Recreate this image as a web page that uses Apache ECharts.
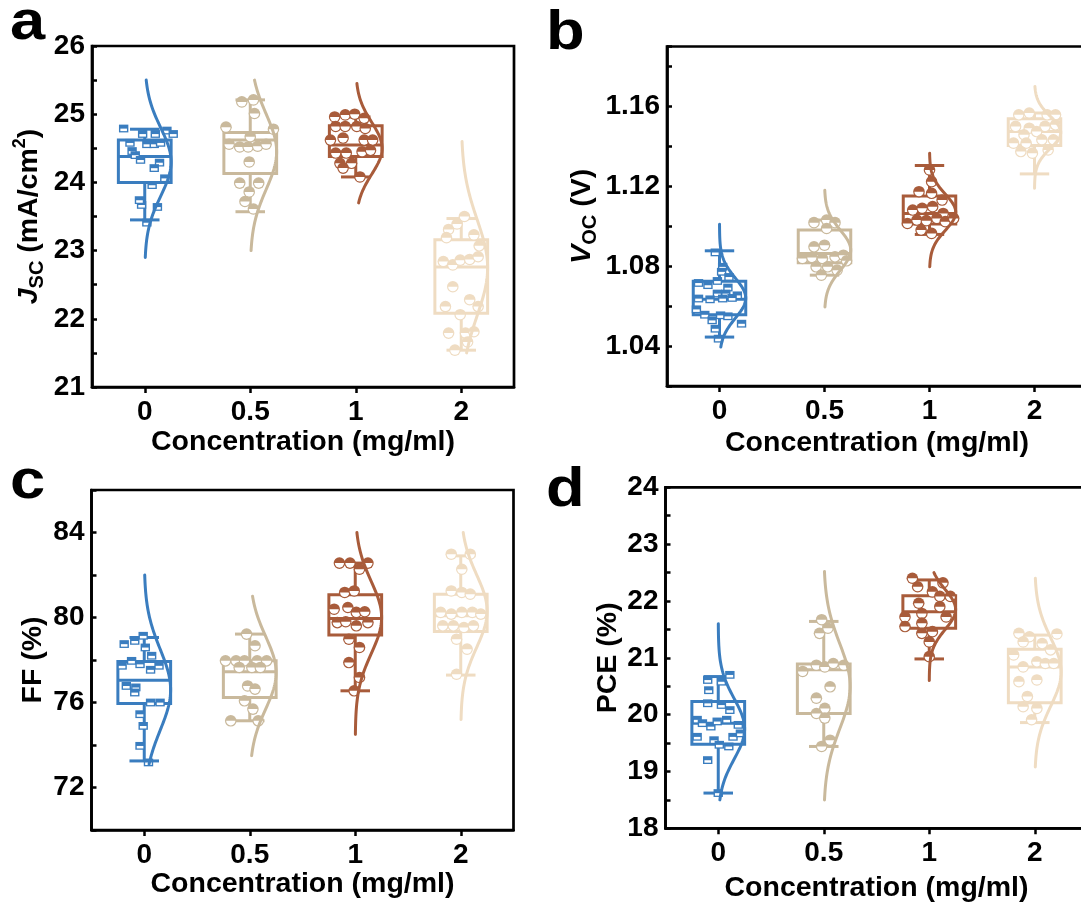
<!DOCTYPE html>
<html><head><meta charset="utf-8">
<script src="https://cdn.jsdelivr.net/npm/echarts@6/dist/echarts.min.js"></script>
<style>html,body{margin:0;padding:0;background:#fff}#c{width:1081px;height:906px}</style>
</head><body><div id="c"></div>
<script>
const CATEGORIES = ['0', '0.5', '1', '2'];
const COLORS = ['#3A7DBF', '#C9B99C', '#A85B3A', '#EFDCC2'];
const X_NAME = 'Concentration (mg/ml)';

// box stats: [min, Q1, median, Q3, max]
const JSC_BOX = [[23.45, 24.00, 24.38, 24.62, 24.78], [23.57, 24.13, 24.62, 24.73, 25.21], [24.08, 24.38, 24.55, 24.83, 24.96], [21.54, 22.08, 22.76, 23.16, 23.47]];
const VOC_BOX = [[1.0445, 1.0557, 1.0634, 1.0725, 1.0877], [1.0755, 1.0817, 1.0864, 1.0981, 1.1031], [1.0959, 1.1011, 1.1064, 1.1152, 1.1304], [1.1262, 1.1404, 1.1474, 1.1538, 1.1567]];
const FF_BOX = [[73.25, 75.95, 77.05, 77.93, 79.06], [75.14, 76.24, 77.45, 77.96, 79.22], [76.55, 79.18, 79.95, 81.07, 82.56], [77.29, 79.34, 80.08, 81.10, 82.90]];
const PCE_BOX = [[18.62, 19.48, 19.85, 20.23, 20.67], [19.44, 20.02, 20.79, 20.89, 21.64], [20.98, 21.52, 21.81, 22.09, 22.37], [19.86, 20.21, 20.84, 21.15, 21.40]];

// normal curves: [mean, sd, yLow, yHigh]
const JSC_CURVE = [[24.3, 0.5, 22.9, 25.5], [24.45, 0.55, 23.0, 25.5], [24.5, 0.38, 23.7, 25.45], [22.75, 0.7, 21.5, 24.6]];
const VOC_CURVE = [[1.064, 0.010, 1.0395, 1.101], [1.088, 0.010, 1.0596, 1.118], [1.107, 0.009, 1.0797, 1.1366], [1.147, 0.008, 1.119, 1.170]];
const FF_CURVE = [[76.6, 1.9, 73.1, 82.0], [77.4, 1.7, 73.5, 81.0], [80.0, 1.7, 74.5, 84.0], [80.3, 1.7, 75.2, 84.0]];
const PCE_CURVE = [[19.75, 0.53, 18.5, 21.6], [20.5, 0.75, 18.5, 22.52], [21.85, 0.35, 20.6, 22.5], [20.75, 0.6, 19.08, 22.4]];

// points: [x offset in category bands, value]
const JSC_0 = [[-0.20,24.79],[-0.02,24.71],[0.10,24.71],[0.21,24.76],[0.27,24.71],[-0.14,24.58],[0.02,24.56],[0.09,24.56],[0.15,24.58],[-0.12,24.46],[-0.09,24.40],[-0.04,24.33],[0.14,24.29],[0.09,24.21],[0.07,23.96],[0.19,24.06],[-0.03,23.67],[0.12,23.64],[-0.05,23.74],[0.02,23.41]];
const JSC_05 = [[-0.08,25.18],[0.03,25.21],[0.04,25.01],[-0.23,24.81],[0.22,24.78],[-0.20,24.56],[-0.10,24.52],[-0.02,24.52],[0.07,24.53],[0.15,24.56],[0.0,24.67],[-0.01,24.30],[-0.10,23.99],[0.08,23.99],[-0.01,23.86],[-0.05,23.72],[0.03,23.61]];
const JSC_1 = [[-0.20,24.96],[-0.10,24.99],[-0.01,25.0],[0.08,24.94],[-0.19,24.82],[-0.10,24.82],[0.01,24.82],[0.09,24.79],[-0.24,24.62],[-0.12,24.65],[0.08,24.62],[0.16,24.62],[-0.19,24.43],[-0.09,24.43],[0.06,24.45],[0.14,24.47],[-0.15,24.28],[-0.04,24.28],[-0.12,24.21],[0.04,24.08]];
const JSC_2 = [[-0.12,23.31],[-0.04,23.39],[0.03,23.50],[-0.14,23.19],[0.12,23.23],[0.17,23.07],[-0.17,22.84],[-0.08,22.79],[-0.01,22.86],[0.08,22.87],[0.16,22.91],[-0.08,22.47],[0.08,22.28],[-0.15,22.18],[0.16,22.18],[-0.01,22.06],[-0.12,21.79],[0.04,21.79],[0.12,21.81],[-0.06,21.54],[0.06,21.66]];

const VOC_0 = [[-0.04,1.0869],[0.03,1.0797],[0.02,1.0772],[0.09,1.0746],[-0.20,1.0716],[-0.11,1.0705],[-0.02,1.0726],[0.08,1.0693],[-0.02,1.0663],[0.06,1.0663],[0.17,1.0654],[-0.20,1.0638],[-0.09,1.0634],[0.03,1.0638],[0.12,1.0641],[-0.22,1.0584],[-0.14,1.0557],[-0.07,1.0529],[0.01,1.0554],[0.08,1.0549],[0.21,1.0512],[-0.04,1.0487],[-0.01,1.0437]];
const VOC_05 = [[-0.10,1.1018],[0.02,1.1031],[0.10,1.1018],[0.02,1.0989],[-0.10,1.0897],[0.0,1.0905],[-0.21,1.0839],[-0.12,1.0844],[-0.02,1.0839],[0.10,1.0847],[0.18,1.0855],[0.21,1.0827],[-0.08,1.0797],[0.03,1.0797],[-0.03,1.0755],[0.12,1.0780]];
const VOC_1 = [[0.0,1.1282],[0.02,1.1223],[-0.10,1.1173],[0.02,1.1165],[0.12,1.1131],[-0.16,1.1081],[-0.07,1.1090],[0.03,1.1098],[0.13,1.1064],[-0.21,1.1014],[-0.12,1.1031],[-0.03,1.1028],[0.07,1.1039],[0.15,1.1023],[0.23,1.1039],[-0.08,1.0981],[0.02,1.0964]];
const VOC_2 = [[-0.15,1.1558],[-0.05,1.1567],[0.12,1.1558],[0.20,1.1558],[-0.18,1.1500],[-0.05,1.1491],[0.10,1.1500],[0.20,1.1508],[-0.10,1.1458],[0.02,1.1474],[-0.20,1.1416],[-0.08,1.1416],[0.07,1.1433],[0.18,1.1433],[-0.13,1.1374],[-0.02,1.1366],[0.13,1.1382]];

const FF_0 = [[-0.09,78.90],[-0.01,79.14],[-0.19,78.75],[0.01,78.59],[0.07,78.20],[-0.21,77.73],[-0.12,77.96],[-0.04,77.80],[0.06,77.54],[0.14,77.73],[-0.17,76.78],[-0.08,76.71],[-0.09,76.47],[0.06,76.0],[0.15,76.0],[-0.04,75.45],[-0.01,74.90],[-0.04,73.96],[0.04,73.18]];
const FF_05 = [[-0.03,79.22],[0.05,78.67],[-0.23,77.96],[-0.13,77.96],[-0.05,77.96],[0.07,77.96],[0.16,77.96],[-0.10,77.65],[0.02,77.65],[0.10,77.65],[-0.02,76.78],[0.05,76.63],[-0.05,76.08],[0.03,75.69],[-0.18,75.14],[0.08,75.14]];
const FF_1 = [[-0.15,82.56],[-0.05,82.56],[0.12,82.56],[0.04,82.27],[-0.10,81.18],[-0.01,81.25],[-0.20,80.39],[-0.07,80.47],[0.01,80.24],[0.09,80.27],[-0.17,79.76],[-0.09,79.80],[0.01,79.61],[0.12,79.76],[-0.06,78.98],[0.04,78.59],[-0.06,77.88],[0.04,77.18],[-0.01,76.55]];
const FF_2 = [[-0.09,82.98],[0.09,82.98],[0.01,82.27],[-0.09,81.25],[0.01,81.18],[0.09,81.10],[-0.19,80.24],[-0.09,80.16],[0.01,80.24],[0.11,80.24],[0.19,80.16],[-0.17,79.61],[-0.07,79.61],[0.03,79.53],[0.12,79.61],[-0.04,78.98],[0.06,78.51],[-0.04,77.33]];

const PCE_0 = [[-0.10,20.61],[0.03,20.58],[0.11,20.70],[-0.09,20.43],[-0.10,20.20],[0.03,20.17],[0.11,20.08],[-0.20,19.91],[-0.15,19.85],[-0.07,19.79],[-0.01,19.88],[0.08,19.91],[0.19,19.82],[-0.20,19.61],[-0.04,19.55],[0.14,19.61],[0.21,19.67],[0.01,19.47],[0.10,19.44],[-0.10,19.20],[0.0,18.62]];
const PCE_05 = [[-0.02,21.67],[-0.04,21.43],[0.04,21.52],[-0.20,20.76],[-0.07,20.87],[0.01,20.84],[0.09,20.90],[0.19,20.87],[0.06,20.49],[-0.07,20.29],[0.01,20.11],[-0.07,20.02],[0.01,19.94],[-0.02,19.44],[0.06,19.55]];
const PCE_1 = [[-0.16,22.40],[0.13,22.32],[-0.11,22.25],[0.03,22.16],[-0.10,21.96],[0.10,22.08],[0.20,22.08],[-0.23,21.72],[-0.07,21.78],[0.10,21.90],[0.16,21.72],[-0.23,21.55],[-0.07,21.61],[0.03,21.46],[-0.07,21.43],[0.0,21.28],[0.0,21.02]];
const PCE_2 = [[-0.15,21.43],[-0.05,21.37],[0.21,21.42],[-0.11,21.28],[0.07,21.25],[0.15,21.14],[-0.20,21.05],[-0.11,20.84],[0.02,20.93],[0.10,20.90],[0.18,20.90],[-0.15,20.58],[0.02,20.61],[-0.07,20.32],[-0.11,20.14],[0.02,20.11],[-0.03,19.91]];

const FONT = 'Liberation Sans, Arial, Helvetica, sans-serif';
const BOX_HALF = 0.25, CAP_HALF = 0.14, LW = 3;
const TICK_FS = 28, NAME_FS = 28.5;

function renderBox(params, api) {
  const g = api.value(0);
  const band = api.size([1, 0])[0];
  const half = band * BOX_HALF, cap = band * CAP_HALF;
  const pMin = api.coord([g, api.value(1)]), pQ1 = api.coord([g, api.value(2)]);
  const pMed = api.coord([g, api.value(3)]), pQ3 = api.coord([g, api.value(4)]);
  const pMax = api.coord([g, api.value(5)]);
  const x = pMed[0];
  const st = { stroke: COLORS[g], lineWidth: LW, fill: null };
  return { type: 'group', children: [
    { type: 'line', shape: { x1: x, y1: pQ3[1], x2: x, y2: pMax[1] }, style: st },
    { type: 'line', shape: { x1: x, y1: pQ1[1], x2: x, y2: pMin[1] }, style: st },
    { type: 'line', shape: { x1: x - cap, y1: pMax[1], x2: x + cap, y2: pMax[1] }, style: st },
    { type: 'line', shape: { x1: x - cap, y1: pMin[1], x2: x + cap, y2: pMin[1] }, style: st },
    { type: 'rect', shape: { x: x - half, y: pQ3[1], width: 2 * half, height: pQ1[1] - pQ3[1] }, style: st },
    { type: 'line', shape: { x1: x - half, y1: pMed[1], x2: x + half, y2: pMed[1] }, style: st }
  ] };
}

function renderPoint(params, api) {
  const g = api.value(0), dx = api.value(1), y = api.value(2);
  const p = api.coord([g, y]);
  const band = api.size([1, 0])[0];
  const cx = p[0] + dx * band, cy = p[1];
  const col = COLORS[g];
  if (g === 0) {
    const w = 9.4, h = 7.8;
    return { type: 'group', children: [
      { type: 'rect', shape: { x: cx - w / 2, y: cy - h / 2, width: w, height: h }, style: { fill: col } },
      { type: 'rect', shape: { x: cx - w / 2 + 1.4, y: cy + 0.1, width: w - 2.8, height: h / 2 - 1.4 }, style: { fill: '#fff' } }
    ] };
  }
  const r = 5.8;
  return { type: 'group', children: [
    { type: 'circle', shape: { cx: cx, cy: cy, r: r }, style: { fill: col } },
    { type: 'sector', shape: { cx: cx, cy: cy, r0: 0, r: r - 1.2, startAngle: 0, endAngle: Math.PI }, style: { fill: '#fff' } }
  ] };
}

function renderCurve(params, api) {
  const g = api.value(0), mu = api.value(1), sd = api.value(2), lo = api.value(3), hi = api.value(4);
  const band = api.size([1, 0])[0];
  const half = band * BOX_HALF;
  const pts = [];
  const N = 90;
  for (let k = 0; k <= N; k++) {
    const y = lo + (hi - lo) * k / N;
    const p = api.coord([g, y]);
    pts.push([p[0] + half * Math.exp(-(y - mu) * (y - mu) / (2 * sd * sd)), p[1]]);
  }
  return { type: 'polyline', shape: { points: pts }, style: { stroke: COLORS[g], lineWidth: LW, fill: null, lineCap: 'round' } };
}

const fmtInt = v => Math.abs(v - Math.round(v)) < 1e-6 ? String(Math.round(v)) : '';
const fmtVoc = v => { const k = Math.round(v * 100); return (Math.abs(v * 100 - k) < 1e-4 && k % 4 === 0) ? (k / 100).toFixed(2) : ''; };
const fmtFF = v => { const k = Math.round(v); return (Math.abs(v - k) < 1e-6 && k % 4 === 0) ? String(k) : ''; };

const SUBRICH = {
  i: { fontFamily: FONT, fontWeight: 'bold', fontStyle: 'italic', fontSize: NAME_FS, lineHeight: 36, verticalAlign: 'middle', color: '#000' },
  n: { fontFamily: FONT, fontWeight: 'bold', fontSize: NAME_FS, lineHeight: 36, verticalAlign: 'middle', color: '#000' },
  s: { fontFamily: FONT, fontWeight: 'bold', fontSize: 20, lineHeight: 20, verticalAlign: 'bottom', color: '#000' },
  p: { fontFamily: FONT, fontWeight: 'bold', fontSize: 18, lineHeight: 18, verticalAlign: 'top', color: '#000' }
};

const PANELS = [
  { grid: { left: 92, top: 46, width: 422, height: 341 }, min: 21, max: 26, interval: 0.5, fmt: fmtInt,
    name: '{i|J}{s|SC}{n| (mA/cm}{p|2}{n|)}', nameGap: 44.5, rich: true, xNameGap: 41, xLabelMargin: 11,
    box: JSC_BOX, curve: JSC_CURVE, pts: [JSC_0, JSC_05, JSC_1, JSC_2] },
  { grid: { left: 667, top: 46.5, width: 420, height: 339.5 }, min: 1.02, max: 1.19, interval: 0.02, fmt: fmtVoc,
    name: '{i|V}{s|OC}{n| (V)}', nameGap: 66.5, rich: true, xNameGap: 43, xLabelMargin: 11.5,
    box: VOC_BOX, curve: VOC_CURVE, pts: [VOC_0, VOC_05, VOC_1, VOC_2] },
  { grid: { left: 91.5, top: 490, width: 422, height: 340 }, min: 70, max: 86, interval: 2, fmt: fmtFF,
    name: 'FF (%)', nameGap: 43.5, rich: false, xNameGap: 37.5, xLabelMargin: 11,
    box: FF_BOX, curve: FF_CURVE, pts: [FF_0, FF_05, FF_1, FF_2] },
  { grid: { left: 665.5, top: 487.3, width: 422, height: 341 }, min: 18, max: 24, interval: 0.5, fmt: fmtInt,
    name: 'PCE (%)', nameGap: 43, rich: false, xNameGap: 45.5, xLabelMargin: 11,
    box: PCE_BOX, curve: PCE_CURVE, pts: [PCE_0, PCE_05, PCE_1, PCE_2] }
];

const grids = [], xAxes = [], yAxes = [], series = [];
PANELS.forEach((P, i) => {
  grids.push(Object.assign({ show: true, borderColor: '#000', borderWidth: 2.7, backgroundColor: 'transparent', containLabel: false, outerBoundsMode: 'none' }, P.grid));
  xAxes.push({
    type: 'category', gridIndex: i, data: CATEGORIES, boundaryGap: true,
    axisLine: { show: true, lineStyle: { color: '#000', width: 2.7 } },
    axisTick: { show: true, alignWithLabel: true, inside: false, length: 6, lineStyle: { color: '#000', width: 2.5 } },
    axisLabel: { color: '#000', fontFamily: FONT, fontWeight: 'bold', fontSize: TICK_FS, margin: P.xLabelMargin },
    splitLine: { show: false },
    name: X_NAME, nameLocation: 'middle', nameGap: P.xNameGap,
    nameTextStyle: { color: '#000', fontFamily: FONT, fontWeight: 'bold', fontSize: NAME_FS }
  });
  const nts = { color: '#000', fontFamily: FONT, fontWeight: 'bold', fontSize: NAME_FS };
  if (P.rich) nts.rich = SUBRICH;
  yAxes.push({
    type: 'value', gridIndex: i, min: P.min, max: P.max, interval: P.interval,
    axisLine: { show: true, lineStyle: { color: '#000', width: 2.7 } },
    axisTick: { show: true, inside: true, length: 5, lineStyle: { color: '#000', width: 2.5 } },
    axisLabel: { color: '#000', fontFamily: FONT, fontWeight: 'bold', fontSize: TICK_FS, margin: 7, formatter: P.fmt, showMinLabel: true, showMaxLabel: true },
    splitLine: { show: false },
    name: P.name, nameLocation: 'middle', nameGap: P.nameGap, nameRotate: 90,
    nameTextStyle: nts
  });
  series.push({
    type: 'custom', xAxisIndex: i, yAxisIndex: i, renderItem: renderBox, z: 2,
    encode: { x: 0, y: 3 },
    data: P.box.map((b, g) => [g, b[0], b[1], b[2], b[3], b[4]])
  });
  const pd = [];
  P.pts.forEach((arr, g) => arr.forEach(pt => pd.push([g, pt[0], pt[1]])));
  series.push({
    type: 'custom', xAxisIndex: i, yAxisIndex: i, renderItem: renderPoint, z: 3,
    encode: { x: 0, y: 2 }, data: pd
  });
  series.push({
    type: 'custom', xAxisIndex: i, yAxisIndex: i, renderItem: renderCurve, z: 4,
    encode: { x: 0, y: 1 },
    data: P.curve.map((c, g) => [g, c[0], c[1], c[2], c[3]])
  });
});

const LETTERS = [['a', 10, 24.2], ['b', 546, 34.2], ['c', 10, 482.6], ['d', 546, 491]];
const chart = echarts.init(document.getElementById('c'), null, { renderer: 'canvas' });
chart.setOption({
  animation: false,
  backgroundColor: '#fff',
  grid: grids, xAxis: xAxes, yAxis: yAxes, series: series,
  graphic: LETTERS.map(L => ({
    type: 'text', x: L[1], y: L[2], scaleX: 1.15, z: 10,
    style: { text: L[0], fill: '#000', font: 'bold 55px ' + FONT, verticalAlign: 'middle', textVerticalAlign: 'middle' }
  }))
});
</script>
</body></html>
